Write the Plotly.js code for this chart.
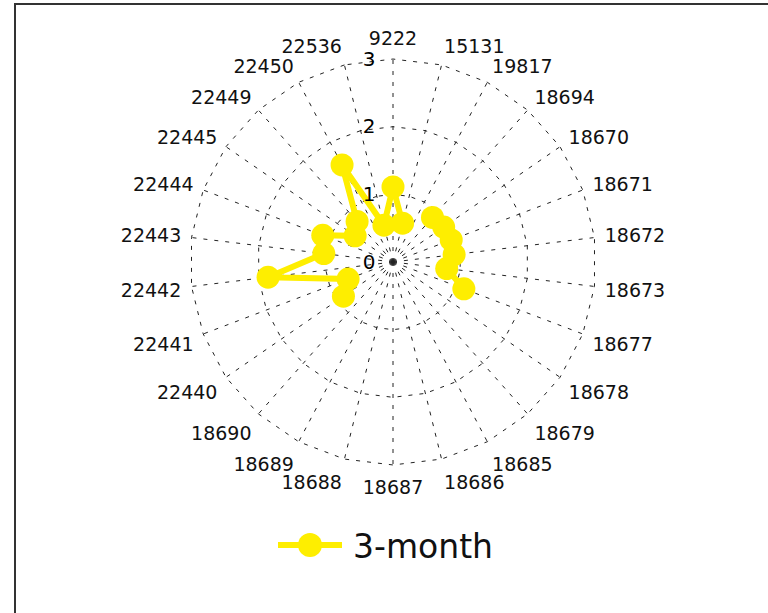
<!DOCTYPE html>
<html>
<head>
<meta charset="utf-8">
<script src="https://cdn.plot.ly/plotly-3.0.1.min.js"></script>
<style>
  html, body { margin: 0; padding: 0; background: #fff; }
  #wrap { position: relative; width: 768px; height: 613px; overflow: hidden; }
  #chart { position: absolute; left: 0; top: 0; width: 768px; height: 613px; }
  #frame { position: absolute; left: 14px; top: 3px; width: 800px; height: 700px;
           border-left: 2px solid #333; border-top: 2px solid #333; pointer-events: none; }
</style>
</head>
<body>
<div id="wrap">
  <div id="chart"></div>
  <div id="frame"></div>
</div>
<script>
// Angular categories (clockwise from top)
const categories = ['9222','15131','19817','18694','18670','18671','18672','18673','18677',
  '18678','18679','18685','18686','18687','18688','18689','18690','22440','22441','22442',
  '22443','22444','22445','22449','22450','22536'];

// 3-month values per category (null = no value)
const values3month = [1.11, 0.59, null, 0.88, 0.91, 0.92, 0.91, 0.80, 1.12,
  null, null, null, null, null, null, null, null, 0.89, 0.71, 1.86,
  1.03, 1.11, 0.68, 0.80, 1.62, 0.56];

const radialTicks = [0, 1, 2, 3];
const seriesName = '3-month';

// drawing order starts at index 3 so that the 22536 -> 9222 segment is drawn
const startIdx = 3;
const theta = [], r = [];
for (let i = 0; i < categories.length; i++) {
  const k = (startIdx + i) % categories.length;
  theta.push(categories[k]);
  r.push(values3month[k]);
}

const yellow = '#FEEE00';
const trace = {
  type: 'scatterpolar',
  mode: 'lines+markers',
  name: seriesName,
  theta: theta,
  r: r,
  connectgaps: false,
  line: { color: yellow, width: 6 },
  marker: { color: yellow, size: 23 },
  cliponaxis: false,
  showlegend: false
};

// custom legend (Plotly clamps legend marker size), positioned in pixels
const W = 768, H = 613;
const px = x => x / W, py = y => 1 - y / H;
const legY = 545;

const layout = {
  width: W, height: H,
  margin: { l: 0, r: 0, t: 0, b: 0 },
  paper_bgcolor: '#fff',
  font: { family: 'DejaVu Sans, Verdana, sans-serif', size: 19, color: '#111' },
  showlegend: false,
  shapes: [
    { type: 'line', xref: 'paper', yref: 'paper', x0: px(278), x1: px(342), y0: py(legY), y1: py(legY),
      line: { color: yellow, width: 6 } },
    { type: 'circle', xref: 'paper', yref: 'paper', x0: px(298), x1: px(322), y0: py(legY + 12), y1: py(legY - 12),
      fillcolor: yellow, line: { color: yellow, width: 0 } }
  ],
  annotations: [
    { text: seriesName, xref: 'paper', yref: 'paper', x: px(351), y: py(legY + 1),
      xanchor: 'left', yanchor: 'middle', showarrow: false,
      font: { size: 33, color: '#111', family: 'DejaVu Sans, Verdana, sans-serif' } }
  ],
  polar: {
    domain: { x: [188/768, 598/768], y: [1 - 467/613, 1 - 57/613] },
    bgcolor: '#fff',
    gridshape: 'linear',
    angularaxis: {
      type: 'category',
      categoryorder: 'array',
      categoryarray: categories,
      direction: 'clockwise',
      rotation: 90,
      showline: false,
      showgrid: true,
      gridcolor: '#222',
      gridwidth: 1,
      griddash: '4px,7px',
      ticks: 'outside',
      ticklen: 4,
      tickcolor: 'rgba(0,0,0,0)',
      tickfont: { size: 19, color: '#111' }
    },
    radialaxis: {
      range: [0, 3.03],
      angle: 90,
      tickangle: 90,
      tickvals: radialTicks,
      ticktext: radialTicks.map(String),
      showline: false,
      showgrid: true,
      gridcolor: '#222',
      gridwidth: 1,
      griddash: '4px,7px',
      ticks: 'outside',
      ticklen: 10,
      tickcolor: 'rgba(0,0,0,0)',
      side: 'counterclockwise',
      tickfont: { size: 20, color: '#000' }
    }
  }
};

Plotly.newPlot('chart', [trace], layout, { staticPlot: true });
</script>
</body>
</html>
